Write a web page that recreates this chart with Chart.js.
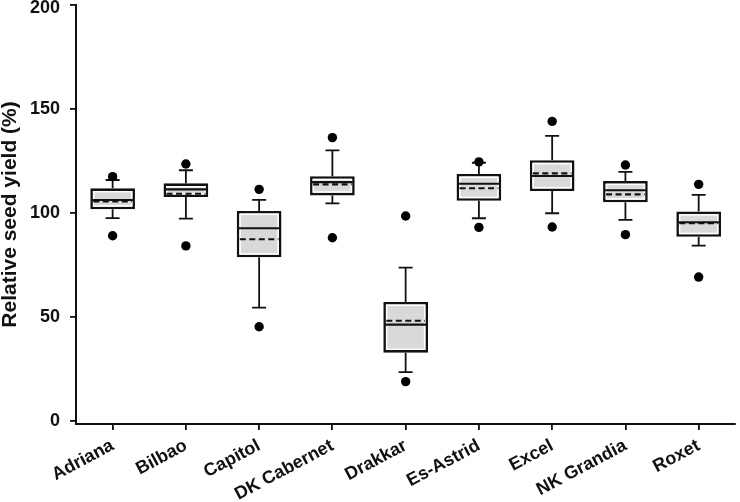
<!DOCTYPE html>
<html>
<head>
<meta charset="utf-8">
<script src="https://cdn.jsdelivr.net/npm/chart.js@4/dist/chart.umd.min.js"></script>
<style>
  html, body { margin: 0; padding: 0; background: #fff; }
  #wrap { width: 740px; height: 502px; position: relative; }
</style>
</head>
<body>
<div id="wrap"><canvas id="c"></canvas></div>
<script>
const categories = ['Adriana','Bilbao','Capitol','DK Cabernet','Drakkar','Es-Astrid','Excel','NK Grandia','Roxet'];
const q1 =          [101.7, 107.6, 78.6, 108.4, 32.7, 105.8, 110.5, 105.1, 88.5];
const q3 =          [111.8, 114.2, 100.9, 117.6, 57.1, 118.7, 125.3, 115.3, 100.7];
const medians =     [106.2, 111.3, 92.6, 114.8, 46.2, 114.0, 117.7, 110.9, 95.5];
const means =       [105.5, 109.2, 87.3, 113.7, 48.1, 111.8, 119.0, 108.9, 95.0];
const whiskerLow =  [97.5, 97.2, 54.4, 104.6, 23.4, 97.4, 99.8, 96.6, 84.2];
const whiskerHigh = [115.8, 120.5, 106.2, 130.1, 73.6, 124.1, 137.0, 119.7, 108.6];
const outlierHigh = [117.4, 123.5, 111.3, 136.2, 98.5, 124.5, 144.0, 123.0, 113.7];
const outlierLow =  [89.0, 84.1, 45.2, 88.0, 18.8, 93.0, 93.2, 89.5, 69.1];
const yTicks = [0, 50, 100, 150, 200];

const boxPlugin = {
  id: 'boxParts',
  beforeDatasetsDraw(chart) {
    const ctx = chart.ctx, xs = chart.scales.x, ys = chart.scales.y;
    ctx.save();
    ctx.strokeStyle = '#111';
    ctx.lineWidth = 1.8;
    categories.forEach((c, i) => {
      const x = xs.getPixelForValue(i);
      const capHalf = 7;
      const yl = ys.getPixelForValue(whiskerLow[i]);
      const yh = ys.getPixelForValue(whiskerHigh[i]);
      const b1 = ys.getPixelForValue(q1[i]);
      const b3 = ys.getPixelForValue(q3[i]);
      ctx.beginPath();
      ctx.moveTo(x, yh); ctx.lineTo(x, b3);
      ctx.moveTo(x, b1); ctx.lineTo(x, yl);
      ctx.moveTo(x - capHalf, yh); ctx.lineTo(x + capHalf, yh);
      ctx.moveTo(x - capHalf, yl); ctx.lineTo(x + capHalf, yl);
      ctx.stroke();
    });
    ctx.restore();
  },
  afterDatasetDraw(chart, args) {
    if (args.index !== 0) return;
    const ctx = chart.ctx, ys = chart.scales.y;
    const meta = chart.getDatasetMeta(0);
    ctx.save();
    meta.data.forEach((bar, i) => {
      const p = bar.getProps(['x', 'y', 'base', 'width'], true);
      const left = p.x - p.width / 2, right = p.x + p.width / 2;
      const top = Math.min(p.y, p.base), bottom = Math.max(p.y, p.base);
      ctx.strokeStyle = '#ffffff';
      ctx.lineWidth = 1.4;
      ctx.strokeRect(left + 3.4, top + 3.4, right - left - 6.8, bottom - top - 6.8);
      const ym = ys.getPixelForValue(medians[i]);
      ctx.setLineDash([]);
      ctx.strokeStyle = '#111';
      ctx.lineWidth = 2.1;
      ctx.beginPath();
      ctx.moveTo(left + 2, ym); ctx.lineTo(right - 2, ym);
      ctx.stroke();
      const ya = ys.getPixelForValue(means[i]);
      ctx.setLineDash([6, 3.5]);
      ctx.beginPath();
      ctx.moveTo(left + 3, ya); ctx.lineTo(right - 3, ya);
      ctx.stroke();
      ctx.setLineDash([]);
    });
    ctx.restore();
  }
};

const font = 'Arial, "Liberation Sans", Helvetica, sans-serif';

new Chart(document.getElementById('c'), {
  type: 'bar',
  data: {
    labels: categories,
    datasets: [
      {
        type: 'bar',
        data: categories.map((c, i) => [q1[i], q3[i]]),
        backgroundColor: '#d9d9d9',
        borderColor: '#111',
        borderWidth: 2.6,
        borderSkipped: false,
        barPercentage: 0.61,
        categoryPercentage: 1.0
      },
      {
        type: 'line',
        data: outlierHigh,
        showLine: false,
        pointRadius: 4.7,
        pointBackgroundColor: '#000',
        pointBorderWidth: 0
      },
      {
        type: 'line',
        data: outlierLow,
        showLine: false,
        pointRadius: 4.7,
        pointBackgroundColor: '#000',
        pointBorderWidth: 0
      }
    ]
  },
  options: {
    responsive: true,
    maintainAspectRatio: false,
    animation: false,
    events: [],
    layout: { padding: { top: 0, right: 0, bottom: 0, left: 0 } },
    plugins: { legend: { display: false }, tooltip: { enabled: false } },
    scales: {
      x: {
        type: 'category',
        offset: true,
        grid: { display: true, drawOnChartArea: false, drawTicks: true, tickLength: 6, offset: false, color: '#111', lineWidth: 1.8 },
        border: { display: true, color: '#111', width: 2 },
        ticks: {
          autoSkip: false, minRotation: 28, maxRotation: 28, padding: 5,
          color: '#111', font: { family: font, size: 18, weight: 'bold' }
        },
        afterFit(scale) { scale.height = 78; scale.paddingTop = 0; scale.paddingLeft = 0; scale.paddingRight = 0; }
      },
      y: {
        min: -1.6, max: 200,
        grid: { display: true, drawOnChartArea: false, drawTicks: true, tickLength: 6, color: '#111', lineWidth: 1.8 },
        border: { display: true, color: '#111', width: 2 },
        afterBuildTicks(scale) { scale.ticks = yTicks.map(v => ({ value: v })); },
        ticks: {
          includeBounds: false, padding: 10,
          color: '#111', font: { family: font, size: 18, weight: 'bold', lineHeight: 0.3 },
          callback(value) { return value === 200 ? ['', String(value)] : String(value); }
        },
        title: {
          display: true, text: 'Relative seed yield (%)', color: '#111',
          padding: 0, font: { family: font, size: 21, weight: 'bold', lineHeight: 1.0 }
        },
        afterFit(scale) { scale.width = 76; scale.paddingTop = 5; scale.paddingBottom = 0; }
      }
    }
  },
  plugins: [boxPlugin]
});
</script>
</body>
</html>
